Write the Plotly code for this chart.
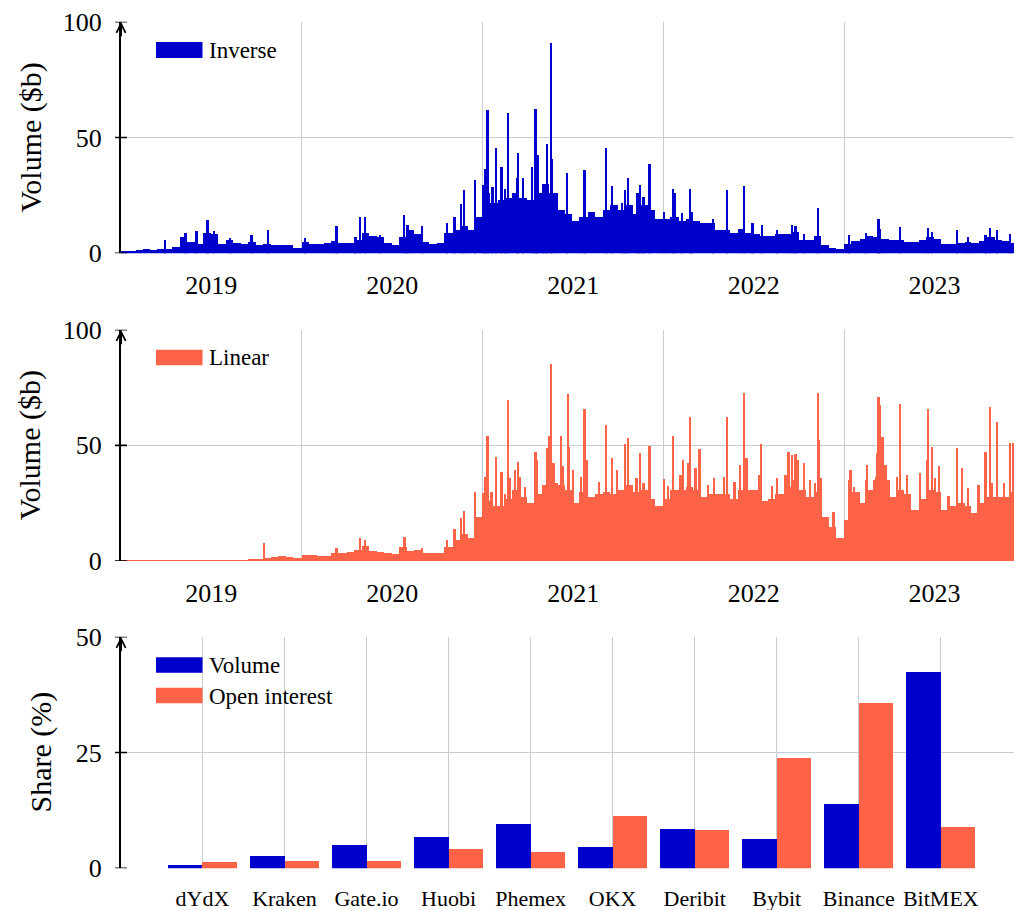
import pandas as pd
import plotly.graph_objects as go

W, H = 1014, 910
FONT = "Liberation Serif"
BLUE = "#0000CD"
ORANGE = "#FF6347"
GRID = "rgb(200,205,213)"

# ---------------- data: semi-monthly typical level (1st and 15th) ----------------
bin_start = pd.date_range("2019-01-01", periods=119, freq="SMS")

inverse_base = [
    1.0, 1.0, 1.5, 2.0, 1.5, 1.8, 2.0, 3.0, 7.0, 5.0,
    4.0, 9.0, 8.5, 4.0, 6.0, 4.5, 4.0, 5.0, 3.5, 4.0,
    3.5, 3.5, 3.5, 2.5, 5.0, 4.0, 4.0, 4.5, 5.5, 4.5,
    4.5, 6.0, 9.0, 7.5, 7.0, 4.5, 3.5, 7.0, 10.0, 8.5,
    5.0, 4.3, 4.5, 9.0, 10.0, 12.0, 10.0, 16.0, 26.0, 22.0,
    23.0, 24.0, 26.0, 24.0, 23.0, 26.0, 30.0, 26.0, 19.0, 17.0,
    14.0, 16.0, 18.0, 16.0, 19.0, 21.0, 19.0, 21.0, 17.0, 21.0,
    19.0, 15.0, 15.0, 16.0, 14.0, 15.0, 14.0, 13.0, 13.0, 10.0,
    10.0, 9.0, 10.5, 9.0, 8.5, 7.5, 7.5, 8.5, 8.5, 9.5,
    6.0, 6.0, 7.5, 3.5, 2.5, 2.0, 4.0, 5.5, 6.5, 7.5,
    7.0, 6.5, 6.0, 6.0, 5.0, 5.0, 6.0, 7.0, 6.5, 4.0,
    4.0, 4.5, 5.0, 4.5, 5.5, 7.0, 6.0, 5.5, 4.5,
]

linear_base = [
    0.5, 0.5, 0.5, 0.5, 0.5, 0.5, 0.5, 0.5, 0.5, 0.5,
    0.5, 0.5, 0.5, 0.5, 0.5, 0.5, 0.5, 0.9, 1.0, 1.6,
    1.8, 2.5, 2.0, 1.6, 2.7, 2.7, 2.4, 2.4, 3.5, 3.7,
    4.2, 5.0, 6.5, 4.5, 4.2, 3.5, 3.2, 6.0, 4.5, 4.9,
    3.5, 3.5, 3.5, 6.0, 9.0, 12.0, 10.0, 19.0, 26.0, 24.0,
    24.0, 27.0, 31.0, 28.0, 25.0, 29.0, 33.0, 34.0, 33.0, 31.0,
    25.0, 30.0, 28.0, 29.0, 30.0, 29.0, 31.0, 33.0, 30.0, 31.0,
    27.0, 24.0, 27.0, 31.0, 31.0, 32.0, 31.0, 28.0, 29.0, 29.0,
    29.0, 27.0, 31.0, 31.0, 31.0, 26.0, 27.0, 29.0, 32.0, 35.0,
    31.0, 28.0, 30.0, 19.0, 15.0, 10.0, 18.0, 30.0, 25.0, 31.0,
    35.0, 33.0, 28.0, 31.0, 29.0, 22.0, 27.0, 31.0, 30.0, 22.0,
    24.0, 25.0, 24.0, 21.0, 25.0, 28.0, 28.0, 28.0, 30.0,
]

# ---------------- data: individual daily peaks ----------------
inverse_spike_dates = [
    "2019-04-01", "2019-05-12", "2019-06-03", "2019-06-25", "2019-07-09", "2019-08-10",
    "2019-09-22", "2019-10-25", "2020-01-08", "2020-03-12", "2020-04-19", "2020-04-29",
    "2020-05-09", "2020-06-08", "2020-07-26", "2020-08-02", "2020-09-01", "2020-10-21",
    "2020-11-05", "2020-11-18", "2020-11-25", "2020-12-16", "2021-01-02", "2021-01-06",
    "2021-01-11", "2021-01-21", "2021-01-28", "2021-02-08", "2021-02-15", "2021-02-22",
    "2021-03-11", "2021-03-14", "2021-03-24", "2021-04-11", "2021-04-18", "2021-04-22",
    "2021-05-04", "2021-05-11", "2021-05-19", "2021-05-21", "2021-06-21", "2021-07-26",
    "2021-09-07", "2021-09-20", "2021-10-09", "2021-10-15", "2021-10-21", "2021-11-10",
    "2021-11-15", "2021-11-22", "2021-12-04", "2022-01-03", "2022-01-21", "2022-01-25",
    "2022-02-08", "2022-02-24", "2022-02-28", "2022-04-11", "2022-05-09", "2022-06-13",
    "2022-06-30", "2022-07-19", "2022-08-19", "2022-09-18", "2022-09-25", "2022-10-12",
    "2022-11-09", "2023-01-11", "2023-02-14", "2023-03-12", "2023-03-15", "2023-04-24",
    "2023-06-20", "2023-06-28", "2023-08-17", "2023-09-09", "2023-10-14", "2023-10-23",
    "2023-11-06", "2023-12-02",
]
inverse_spike_values = [
    5.8, 9.0, 9.6, 14.7, 9.6, 6.8,
    7.9, 10.2, 6.8, 12.0, 7.2, 16.0,
    15.7, 8.2, 16.8, 12.5, 11.8, 13.4,
    15.8, 21.6, 27.6, 31.7, 29.5, 36.7,
    62.2, 28.8, 45.8, 37.4, 28.0, 60.9,
    32.8, 43.6, 32.8, 37.4, 62.6, 42.4,
    30.0, 47.5, 91.0, 41.0, 35.0, 36.0,
    45.8, 29.0, 22.0, 27.3, 32.7, 26.0,
    29.5, 24.5, 38.8, 18.0, 27.8, 26.0,
    17.5, 28.0, 18.0, 14.8, 27.6, 29.2,
    13.4, 12.5, 10.4, 12.2, 12.0, 8.6,
    19.9, 7.9, 9.0, 14.8, 10.8, 11.4,
    11.2, 9.4, 10.1, 7.2, 7.9, 11.2,
    10.1, 8.3,
]

linear_spike_dates = [
    "2019-10-18", "2020-03-12", "2020-04-29", "2020-05-09", "2020-07-27", "2020-09-01",
    "2020-10-21", "2020-11-05", "2020-11-18", "2020-11-25", "2020-12-16", "2020-12-20",
    "2021-01-02", "2021-01-06", "2021-01-11", "2021-01-19", "2021-01-28", "2021-02-08",
    "2021-02-15", "2021-02-22", "2021-02-25", "2021-03-07", "2021-03-14", "2021-03-17",
    "2021-03-27", "2021-04-18", "2021-04-21", "2021-05-04", "2021-05-11", "2021-05-15",
    "2021-05-19", "2021-05-24", "2021-06-08", "2021-06-13", "2021-06-22", "2021-06-25",
    "2021-07-03", "2021-07-19", "2021-07-26", "2021-07-30", "2021-08-24", "2021-09-07",
    "2021-09-20", "2021-09-29", "2021-10-15", "2021-10-21", "2021-11-08", "2021-11-15",
    "2021-11-22", "2021-12-04", "2022-01-03", "2022-01-10", "2022-01-21", "2022-02-05",
    "2022-02-10", "2022-02-20", "2022-02-24", "2022-03-07", "2022-03-15", "2022-04-02",
    "2022-04-13", "2022-05-04", "2022-05-09", "2022-05-25", "2022-06-05", "2022-06-13",
    "2022-06-18", "2022-07-13", "2022-07-18", "2022-08-09", "2022-08-18", "2022-09-05",
    "2022-09-11", "2022-09-18", "2022-09-25", "2022-09-30", "2022-10-12", "2022-10-24",
    "2022-11-03", "2022-11-09", "2022-11-12", "2022-11-15", "2022-12-11", "2023-01-11",
    "2023-01-14", "2023-01-21", "2023-02-14", "2023-02-17", "2023-03-07", "2023-03-10",
    "2023-03-12", "2023-03-15", "2023-03-20", "2023-03-26", "2023-04-01", "2023-04-18",
    "2023-04-24", "2023-05-08", "2023-06-04", "2023-06-18", "2023-06-20", "2023-06-28",
    "2023-07-04", "2023-07-12", "2023-07-31", "2023-08-17", "2023-08-28", "2023-09-09",
    "2023-09-30", "2023-10-14", "2023-10-23", "2023-10-27", "2023-11-06", "2023-11-20",
    "2023-12-03", "2023-12-08",
]
linear_spike_values = [
    8.1, 5.6, 9.9, 9.2, 10.7, 5.6,
    9.2, 13.8, 18.6, 21.9, 30.1, 17.1,
    29.4, 36.6, 54.2, 30.1, 45.0, 38.5,
    29.1, 69.7, 35.9, 39.5, 43.0, 36.6,
    32.3, 47.4, 43.8, 30.8, 48.8, 54.0,
    85.2, 42.4, 54.0, 41.0, 72.2, 49.6,
    39.5, 36.6, 65.9, 43.8, 34.3, 58.9,
    44.5, 39.5, 50.6, 53.2, 35.9, 47.0,
    33.7, 49.9, 35.6, 32.6, 54.3, 37.3,
    43.8, 42.7, 62.2, 40.2, 48.7, 33.0,
    35.9, 36.6, 62.2, 34.4, 41.6, 72.6,
    44.5, 37.3, 50.7, 32.7, 35.9, 37.3,
    47.4, 46.0, 46.4, 43.8, 42.4, 35.2,
    34.0, 72.6, 52.4, 35.9, 21.5, 35.2,
    39.5, 32.3, 35.2, 41.6, 36.6, 46.7,
    70.9, 67.6, 53.9, 41.6, 35.2, 36.6,
    68.0, 37.3, 38.0, 43.8, 65.9, 49.6,
    35.9, 41.2, 28.4, 48.8, 40.2, 31.6,
    33.0, 47.1, 66.9, 33.7, 60.1, 34.0,
    51.3, 51.0,
]

# ---------------- data: market shares ----------------
exchanges = ["dYdX", "Kraken", "Gate.io", "Huobi", "Phemex", "OKX", "Deribit", "Bybit", "Binance", "BitMEX"]
volume_share = [0.7, 2.7, 5.2, 6.8, 9.6, 4.6, 8.6, 6.4, 14.0, 42.5]
oi_share = [1.4, 1.6, 1.7, 4.3, 3.5, 11.3, 8.3, 23.8, 35.7, 9.0]

# ---------------- layout geometry (pixels) ----------------
X0 = 121
panels = {  # y pixel of top value, y pixel of zero
    1: (21.7, 253.3),
    2: (329.7, 561.0),
    3: (636.7, 868.3),
}


def ydom(top, bottom):
    return [1 - bottom / H, 1 - top / H]


day_ms = 86400000
edges = list(bin_start) + [pd.Timestamp("2024-01-01")]
bin_width = [(edges[i + 1] - edges[i]).total_seconds() * 1000 for i in range(len(bin_start))]

fig = go.Figure()


def add_series(base, sdates, svals, color, xa, ya):
    fig.add_trace(go.Bar(x=list(bin_start), y=base, width=bin_width, offset=0,
                         marker=dict(color=color, line=dict(width=0)),
                         xaxis=xa, yaxis=ya, showlegend=False, hoverinfo="skip"))
    fig.add_trace(go.Bar(x=pd.to_datetime(sdates), y=svals, width=[3.6 * day_ms] * len(svals),
                         marker=dict(color=color, line=dict(width=0)),
                         xaxis=xa, yaxis=ya, showlegend=False, hoverinfo="skip"))


add_series(inverse_base, inverse_spike_dates, inverse_spike_values, BLUE, "x", "y")
add_series(linear_base, linear_spike_dates, linear_spike_values, ORANGE, "x2", "y2")

fig.add_trace(go.Bar(x=exchanges, y=volume_share, width=0.42, offset=-0.42,
                     marker=dict(color=BLUE, line=dict(width=0)),
                     xaxis="x3", yaxis="y3", showlegend=False))
fig.add_trace(go.Bar(x=exchanges, y=oi_share, width=0.42, offset=0.0,
                     marker=dict(color=ORANGE, line=dict(width=0)),
                     xaxis="x3", yaxis="y3", showlegend=False))

xdom = [X0 / W, 1.0]
date_axis = dict(type="date", range=["2019-01-01", "2023-12-10"], dtick="M12", tick0="2019-01-01",
                 tickformat="%Y", ticklabelmode="period", showgrid=True, gridcolor=GRID, gridwidth=1.3,
                 ticks="", showline=False, zeroline=False, domain=xdom, automargin=False,
                 tickfont=dict(family=FONT, size=26, color="black"), ticklabelstandoff=14)
yaxis_common = dict(showgrid=True, gridcolor=GRID, gridwidth=1.3, zeroline=False, showline=True,
                    linecolor="black", linewidth=2, ticks="", automargin=False,
                    tickfont=dict(family=FONT, size=26, color="black"), ticklabelstandoff=12)

fig.update_layout(
    template="none",
    width=W, height=H, margin=dict(l=0, r=0, t=0, b=0, pad=0), autosize=False,
    paper_bgcolor="white", plot_bgcolor="white", barmode="overlay", bargap=0,
    xaxis=dict(date_axis, anchor="y"),
    yaxis=dict(yaxis_common, domain=ydom(*panels[1]), range=[0, 100], tickvals=[0, 50, 100], anchor="x"),
    xaxis2=dict(date_axis, anchor="y2"),
    yaxis2=dict(yaxis_common, domain=ydom(*panels[2]), range=[0, 100], tickvals=[0, 50, 100], anchor="x2"),
    xaxis3=dict(type="category", categoryorder="array", categoryarray=exchanges, range=[-0.993, 9.892],
                showgrid=True, gridcolor=GRID, gridwidth=1.3, ticks="", showline=False, zeroline=False,
                domain=xdom, anchor="y3", automargin=False,
                tickfont=dict(family=FONT, size=22, color="black"), ticklabelstandoff=15),
    yaxis3=dict(yaxis_common, domain=ydom(*panels[3]), range=[0, 50], tickvals=[0, 25, 50], anchor="x3"),
)

shapes = []
annotations = []
axis_ticks = {1: ("y", [0, 50, 100], 100), 2: ("y2", [0, 50, 100], 100), 3: ("y3", [0, 25, 50], 50)}
for p, (yref, vals, top) in axis_ticks.items():
    for v in vals:
        shapes.append(dict(type="line", xref="paper", yref=yref, x0=115 / W, x1=127 / W, y0=v, y1=v,
                           line=dict(color="black", width=1.6)))
    annotations.append(dict(xref="paper", yref=yref, x=X0 / W, y=top, ax=0, ay=16, text="",
                            showarrow=True, arrowhead=5, arrowsize=0.9, arrowwidth=2, arrowcolor="black",
                            standoff=0))


def px_x(x):
    return x / W


def px_y(y):
    return 1 - y / H


legend_items = [
    (42, 58, "Inverse", BLUE),
    (349.7, 365.3, "Linear", ORANGE),
    (657.3, 672.7, "Volume", BLUE),
    (687.7, 703.3, "Open interest", ORANGE),
]
for ytop, ybot, label, color in legend_items:
    shapes.append(dict(type="rect", xref="paper", yref="paper", x0=px_x(156), x1=px_x(202.5),
                       y0=px_y(ybot), y1=px_y(ytop), fillcolor=color, line=dict(width=0)))
    annotations.append(dict(xref="paper", yref="paper", x=px_x(207), y=px_y((ytop + ybot) / 2 + 0.5),
                            xanchor="left", yanchor="middle", text=label, showarrow=False,
                            font=dict(family=FONT, size=23, color="black")))

titles = [(30, 137.5, "Volume ($b)"), (30, 445.3, "Volume ($b)"), (40, 752.5, "Share (%)")]
for x, y, t in titles:
    annotations.append(dict(xref="paper", yref="paper", x=px_x(x), y=px_y(y), text=t, textangle=-90,
                            xanchor="center", yanchor="middle", showarrow=False,
                            font=dict(family=FONT, size=30, color="black")))

fig.update_layout(shapes=shapes, annotations=annotations)
fig.write_html("out.html", config={"displayModeBar": False},
               post_script="document.body.style.margin='0px';document.body.style.overflow='hidden';")
